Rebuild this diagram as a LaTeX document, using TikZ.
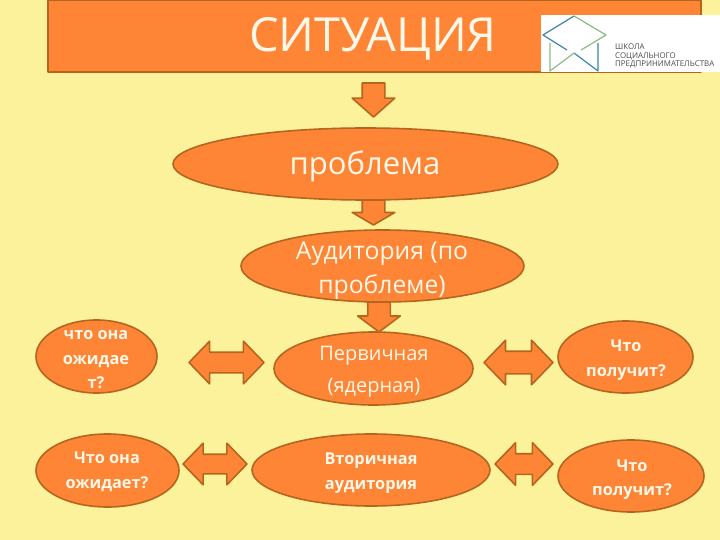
\documentclass[tikz,border=0pt]{standalone}
\usepackage{fontspec}
\setmainfont{Open Sans}
\usetikzlibrary{shapes.geometric,shapes.arrows}
\definecolor{fon}{HTML}{FDF29C}
\definecolor{orng}{HTML}{FD8535}
\definecolor{rim}{HTML}{B5661E}
\definecolor{txt}{HTML}{FFF8E8}
\definecolor{lblue}{HTML}{3F86A3}
\definecolor{lgreen}{HTML}{8DBB85}
\tikzset{
	oval/.style 2 args={ellipse,draw=rim,fill=orng,line width=1.6pt,minimum width=#1,minimum height=#2,inner sep=0pt,outer sep=0pt},
	bigtxt/.style={text=txt,align=center,inner sep=0pt,font=\fontsize{24.7}{34}\selectfont},
	midtxt/.style={text=txt,align=center,inner sep=0pt,font=\fontsize{20}{32}\selectfont},
	smalltxt/.style={text=txt,align=center,inner sep=0pt,font=\bfseries\fontsize{16.3}{24.5}\selectfont},
	downarrow/.style 2 args={single arrow,shape border rotate=270,anchor=tip,draw=rim,fill=orng,line width=1.6pt,outer sep=0pt,inner ysep=0pt,inner xsep=10.5pt,
		minimum height=#1,minimum width=41pt,single arrow head extend=10pt,single arrow tip angle=#2,single arrow head indent=0pt},
	twoarrow/.style 2 args={double arrow,draw=rim,fill=orng,line width=1.6pt,outer sep=0pt,inner xsep=0pt,inner ysep=#2,
		minimum height=#1,minimum width=41pt,double arrow head extend=11pt,double arrow tip angle=92,double arrow head indent=0pt}
}
\begin{document}
\begin{tikzpicture}[x=1pt,y=-1pt,line join=round]
	\useasboundingbox[fill=fon] (0,0) rectangle (720,540);
	\node[draw=rim,fill=orng,line width=1.6pt,minimum width=653pt,minimum height=72pt,inner sep=0pt,outer sep=0pt] (title) at (374.5,36) {};
	\node[text=txt,inner sep=0pt,font=\fontsize{47}{50}\selectfont] (titletext) at (373,39) {СИТУАЦИЯ};
	\node[fill=white,minimum width=179pt,minimum height=57pt,inner sep=0pt,outer sep=0pt] (logo) at (630.5,43.5) {};
	\path (574,16) coordinate (T)
	(543,35) coordinate (L)
	(606,35) coordinate (R)
	(574,53) coordinate (M)
	(550,43) coordinate (A)
	(550,71) coordinate (B)
	(598,43) coordinate (C)
	(598,71) coordinate (D)
	;
	\draw[lblue,line width=1.2pt] (T)--(L)--(567,50) (C)--(D)--(M);
	\draw[lgreen,line width=1.2pt] (T)--(R)--(581,50) (A)--(B)--(M);
	\node[anchor=west,align=left,inner sep=0pt,text=black!70,font=\fontsize{7.9}{8.5}\selectfont] (logotext) at (615,56) {ШКОЛА\\СОЦИАЛЬНОГО\\ПРЕДПРИНИМАТЕЛЬСТВА};

	\node[downarrow={34pt}{97}] (arrowa) at (373.5,117) {};
	\node[oval={385pt}{72pt}] (problem) at (365.5,164) {};
	\node[bigtxt,font=\fontsize{31}{35}\selectfont] (problemtext) at (365,166) {проблема};
	\node[oval={283pt}{72pt}] (audit) at (382.5,266) {};
	\node[bigtxt] (audittext) at (382,270.5) {Аудитория (по\\проблеме)};
	\node[downarrow={25pt}{119}] (arrowb) at (373.5,225) {};
	\node[oval={199pt}{73pt}] (first) at (373.5,368.5) {};
	\node[midtxt] (firsttext) at (374,371.5) {Первичная\\(ядерная)};
	\node[downarrow={30pt}{106}] (arrowc) at (379,332) {};
	\node[oval={238pt}{72pt}] (second) at (371,470) {};
	\node[smalltxt] (secondtext) at (371,473) {Вторичная\\аудитория};

	\node[oval={121pt}{73pt}] (wait) at (96.5,356.5) {};
	\node[smalltxt] (waittext) at (96,360) {что она\\ожидае\\т?};
	\node[oval={143pt}{73pt}] (waitb) at (107.5,470.5) {};
	\node[smalltxt] (waitbtext) at (107,472) {Что она\\ожидает?};
	\node[oval={135pt}{72pt}] (get) at (625.5,357) {};
	\node[smalltxt] (gettext) at (626,360) {Что\\получит?};
	\node[oval={146pt}{72pt}] (getb) at (631,476) {};
	\node[smalltxt] (getbtext) at (632,479.5) {Что\\получит?};

	\node[twoarrow={75pt}{9.5pt}] (linka) at (226.5,362.5) {};
	\node[twoarrow={69pt}{10.5pt}] (linkb) at (518.5,362.5) {};
	\node[twoarrow={64pt}{9pt}] (linkc) at (215,464) {};
	\node[twoarrow={58pt}{9.5pt}] (linkd) at (524,464) {};
\end{tikzpicture}
\end{document}
